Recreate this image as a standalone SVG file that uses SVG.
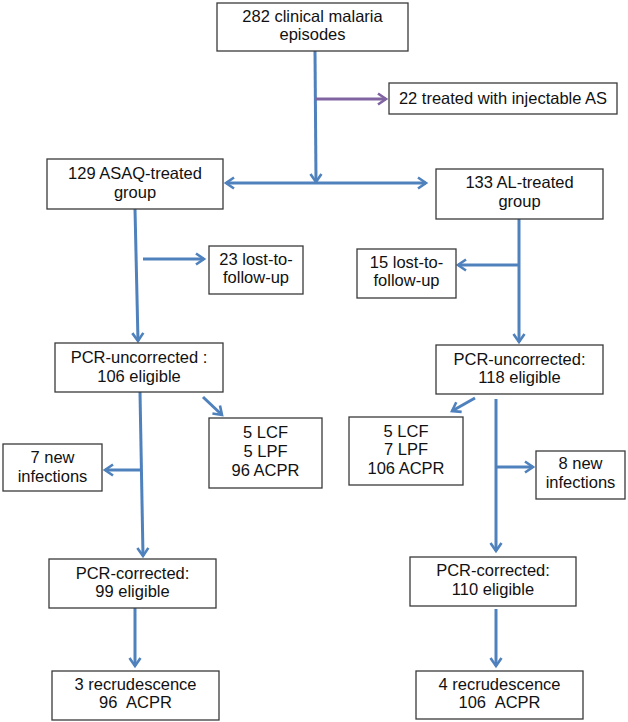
<svg xmlns="http://www.w3.org/2000/svg" width="628" height="722" viewBox="0 0 628 722">
<style>
.box{fill:#fff;stroke:#3a3a3a;stroke-width:1.3}
text{font-family:"Liberation Sans",Arial,sans-serif;font-size:16.5px;fill:#111;text-anchor:middle}
.ws{word-spacing:5px}
.c{fill:none;stroke:#4F81BD;stroke-width:3}
.p{fill:none;stroke:#8064A2;stroke-width:3}
</style>
<defs>
<marker id="ab" markerWidth="14" markerHeight="14" refX="10" refY="7" orient="auto-start-reverse" markerUnits="userSpaceOnUse"><path d="M2,1.5 L10,7 L2,12.5" fill="none" stroke="#4F81BD" stroke-width="2.6"/></marker>
<marker id="ap" markerWidth="14" markerHeight="14" refX="10" refY="7" orient="auto" markerUnits="userSpaceOnUse"><path d="M2,1.5 L10,7 L2,12.5" fill="none" stroke="#8064A2" stroke-width="2.6"/></marker>
</defs>
<rect width="628" height="722" fill="#fff"/>
<g id="connectors">
<line class="c" x1="315" y1="51" x2="316" y2="182" marker-end="url(#ab)"/>
<line class="p" x1="316" y1="99" x2="386" y2="99" marker-end="url(#ap)"/>
<line class="c" x1="226" y1="183" x2="426" y2="183" marker-start="url(#ab)" marker-end="url(#ab)"/>
<line class="c" x1="135" y1="209" x2="138" y2="341" marker-end="url(#ab)"/>
<line class="c" x1="143" y1="259" x2="204" y2="259" marker-end="url(#ab)"/>
<line class="c" x1="519" y1="219" x2="519" y2="342" marker-end="url(#ab)"/>
<line class="c" x1="518" y1="265" x2="458" y2="265" marker-end="url(#ab)"/>
<line class="c" x1="140" y1="392" x2="143" y2="556" marker-end="url(#ab)"/>
<line class="c" x1="141" y1="470" x2="105" y2="470" marker-end="url(#ab)"/>
<line class="c" x1="203" y1="397" x2="222" y2="415" marker-end="url(#ab)"/>
<line class="c" x1="475" y1="398" x2="452" y2="411" marker-end="url(#ab)"/>
<line class="c" x1="496" y1="399" x2="496" y2="551" marker-end="url(#ab)"/>
<line class="c" x1="496" y1="467" x2="533" y2="467" marker-end="url(#ab)"/>
<line class="c" x1="135" y1="608" x2="135" y2="666" marker-end="url(#ab)"/>
<line class="c" x1="496" y1="609" x2="496" y2="666" marker-end="url(#ab)"/>
</g>
<g id="n_top"><rect class="box" x="217" y="3" width="191" height="48"/><text x="312.5" y="22">282 clinical malaria</text><text x="312.5" y="40">episodes</text></g>
<g id="n_inj"><rect class="box" x="389" y="83" width="228" height="31"/><text x="503" y="104">22 treated with injectable AS</text></g>
<g id="n_asaq"><rect class="box" x="47" y="159" width="176" height="50"/><text x="135" y="179">129 ASAQ-treated</text><text x="135" y="198">group</text></g>
<g id="n_al"><rect class="box" x="436" y="169" width="167" height="50"/><text x="519.5" y="188">133 AL-treated</text><text x="519.5" y="207">group</text></g>
<g id="n_lost23"><rect class="box" x="209" y="246" width="94" height="48"/><text x="256" y="265">23 lost-to-</text><text x="256" y="283">follow-up</text></g>
<g id="n_lost15"><rect class="box" x="357" y="249" width="99" height="49"/><text x="406.5" y="268">15 lost-to-</text><text x="406.5" y="286">follow-up</text></g>
<g id="n_uncL"><rect class="box" x="55" y="343" width="168" height="49"/><text x="139" y="363">PCR-uncorrected :</text><text x="139" y="382">106 eligible</text></g>
<g id="n_uncR"><rect class="box" x="436" y="345" width="167" height="49"/><text x="519.5" y="365">PCR-uncorrected:</text><text x="519.5" y="383">118 eligible</text></g>
<g id="n_resL"><rect class="box" x="209" y="418" width="113" height="70"/><text x="265.5" y="438">5 LCF</text><text x="265.5" y="457">5 LPF</text><text x="265.5" y="476">96 ACPR</text></g>
<g id="n_resR"><rect class="box" x="349" y="417" width="114" height="68"/><text x="406" y="437">5 LCF</text><text x="406" y="455">7 LPF</text><text x="406" y="474">106 ACPR</text></g>
<g id="n_newL"><rect class="box" x="3" y="444" width="99" height="47"/><text x="52.5" y="463">7 new</text><text x="52.5" y="482">infections</text></g>
<g id="n_newR"><rect class="box" x="536" y="451" width="89" height="48"/><text x="580.5" y="469">8 new</text><text x="580.5" y="488">infections</text></g>
<g id="n_corL"><rect class="box" x="49" y="559" width="167" height="49"/><text x="132.5" y="579">PCR-corrected:</text><text x="132.5" y="597">99 eligible</text></g>
<g id="n_corR"><rect class="box" x="410" y="557" width="166" height="49"/><text x="493" y="576">PCR-corrected:</text><text x="493" y="595">110 eligible</text></g>
<g id="n_recL"><rect class="box" x="52" y="671" width="167" height="49"/><text x="135.5" y="690">3 recrudescence</text><text class="ws" x="135.5" y="708">96 ACPR</text></g>
<g id="n_recR"><rect class="box" x="416" y="671" width="167" height="48"/><text x="499.5" y="690">4 recrudescence</text><text class="ws" x="499.5" y="708">106 ACPR</text></g>
</svg>
